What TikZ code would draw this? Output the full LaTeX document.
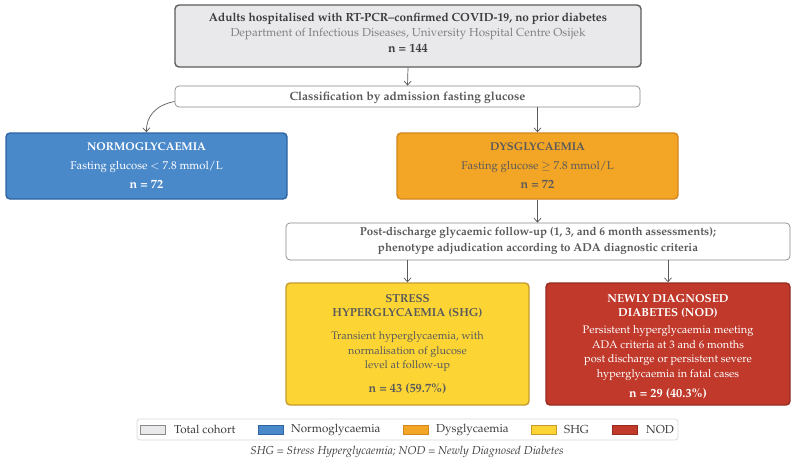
\documentclass[tikz,border=0pt]{standalone}
\usepackage[T1]{fontenc}
\usepackage{mathpazo}
\usetikzlibrary{arrows.meta,calc}
\definecolor{gfill}{HTML}{E9E9EB}
\definecolor{gline}{HTML}{5C5C5C}
\definecolor{bfill}{HTML}{4A89C9}
\definecolor{bline}{HTML}{2E64A0}
\definecolor{ofill}{HTML}{F3A526}
\definecolor{oline}{HTML}{D3871D}
\definecolor{yfill}{HTML}{FCD535}
\definecolor{yline}{HTML}{C69B2C}
\definecolor{rfill}{HTML}{C0392B}
\definecolor{rline}{HTML}{962B20}
\definecolor{tdark}{HTML}{3C3C3C}
\definecolor{tmid}{HTML}{5A5A5A}
\definecolor{tlight}{HTML}{808080}
\definecolor{wline}{HTML}{8A8A8A}
\definecolor{legline}{HTML}{D8D8D8}
\newcommand{\nbig}{\bfseries\fontsize{12.4}{14.5}\selectfont}
\tikzset{
  box/.style={draw, rounded corners=4pt, inner sep=0pt, line width=1.4pt},
  wbox/.style={draw=wline, fill=white, rounded corners=4pt, inner sep=0pt, line width=0.7pt},
  txt/.style={align=center, inner sep=0pt},
  arr/.style={draw=tmid, line width=0.7pt, -{Straight Barb[length=4pt,width=7pt]}},
  swatch/.style={draw, line width=0.6pt, minimum width=25pt, minimum height=9pt, inner sep=0pt},
  legtext/.style={anchor=west, inner sep=0pt, text=tdark, font=\fontsize{11.6}{13}\selectfont}
}
\begin{document}
\begin{tikzpicture}[x=1pt,y=-1pt]
\useasboundingbox (0,0) rectangle (795,464);
\fill[white] (0,0) rectangle (795,464);

% boxes
\node[box, draw=gline, fill=gfill, minimum width=466pt, minimum height=62pt] (top) at (408,36) {};
\node[wbox, minimum width=465pt, minimum height=21pt] (class) at (407.5,96.5) {};
\node[box, draw=bline, fill=bfill, minimum width=281pt, minimum height=66pt] (normo) at (146.5,166) {};
\node[box, draw=oline, fill=ofill, minimum width=281pt, minimum height=66pt] (dysg) at (537.5,166) {};
\node[wbox, minimum width=504pt, minimum height=37pt] (follow) at (538,241.5) {};
\node[box, draw=yline, fill=yfill, minimum width=243pt, minimum height=122pt] (shg) at (407.5,344) {};
\node[box, draw=rline, fill=rfill, minimum width=244pt, minimum height=122pt] (nod) at (668,344) {};

% texts
\node[txt, text=tdark, font=\fontsize{11.5}{15.5}\selectfont] (topt) at (408,32.5)
  {{\bfseries\fontsize{11.8}{15.5}\selectfont Adults hospitalised with RT-PCR--confirmed COVID-19, no prior diabetes}\\
   {\color{tlight}\fontsize{11.6}{15.5}\selectfont Department of Infectious Diseases, University Hospital Centre Osijek}\\
   {\nbig n = 144}};

\node[txt, text=tmid, font=\fontsize{12}{14}\selectfont\bfseries] (classt) at (407.5,97.5)
  {Classification by admission fasting glucose};

\node[txt, text=white, font=\fontsize{11.3}{19}\selectfont] (normot) at (146.5,166)
  {{\bfseries NORMOGLYCAEMIA}\\
   Fasting glucose $<$ 7.8 mmol/L\\
   {\nbig n = 72}};

\node[txt, text=tmid, font=\fontsize{11.3}{19}\selectfont] (dysgt) at (537.5,166)
  {{\bfseries DYSGLYCAEMIA}\\
   Fasting glucose $\geq$ 7.8 mmol/L\\
   {\nbig n = 72}};

\node[txt, text=tmid, font=\fontsize{11.5}{16}\selectfont\bfseries] (followt) at (538,241)
  {Post-discharge glycaemic follow-up (1, 3, and 6 month assessments);\\
   phenotype adjudication according to ADA diagnostic criteria};

\node[txt, text=tmid, font=\fontsize{10.9}{14.5}\selectfont] (shgt) at (407.5,344)
  {{\bfseries\fontsize{11.6}{14.5}\selectfont STRESS}\\
   {\bfseries\fontsize{11.6}{14.5}\selectfont HYPERGLYCAEMIA (SHG)}\\[8.5pt]
   Transient hyperglycaemia, with\\
   normalisation of glucose\\
   level at follow-up\\[9.5pt]
   {\nbig n = 43 (59.7\%)}};

\node[txt, text=white, font=\fontsize{11}{14.5}\selectfont] (nodt) at (668,346.5)
  {{\bfseries\fontsize{11.6}{14.5}\selectfont NEWLY DIAGNOSED}\\
   {\bfseries\fontsize{11.6}{14.5}\selectfont DIABETES (NOD)}\\[2.5pt]
   Persistent hyperglycaemia meeting\\
   ADA criteria at 3 and 6 months\\
   post discharge or persistent severe\\
   hyperglycaemia in fatal cases\\[5.5pt]
   {\nbig n = 29 (40.3\%)}};

% connectors
\draw[arr] (top.south) -- (class.north);
\draw[arr] ($(class.west)+(0,5)$) .. controls (156,105) and (146,116) .. (normo.north);
\draw[arr] (class.south -| dysg.north) -- (dysg.north);
\draw[arr] (dysg.south) -- (follow.north -| dysg.south);
\draw[arr] (follow.south -| shg.north) -- (shg.north);
\draw[arr] (follow.south -| nod.north) -- (nod.north);

% legend
\node[draw=legline, fill=white, rounded corners=3pt, line width=0.7pt, minimum width=541pt, minimum height=21pt, inner sep=0pt] (legend) at (407.5,429.5) {};
\node[swatch, draw=wline, fill=gfill] (s1) at (153,429.5) {};
\node[legtext] (l1) at (174,429.5) {Total cohort};
\node[swatch, draw=bline, fill=bfill] (s2) at (270.5,429.5) {};
\node[legtext] (l2) at (291,429.5) {Normoglycaemia};
\node[swatch, draw=oline, fill=ofill] (s3) at (415.5,429.5) {};
\node[legtext] (l3) at (436,429.5) {Dysglycaemia};
\node[swatch, draw=yline, fill=yfill] (s4) at (543.5,429.5) {};
\node[legtext] (l4) at (564,429.5) {SHG};
\node[swatch, draw=rline, fill=rfill] (s5) at (624.5,429.5) {};
\node[legtext] (l5) at (646,429.5) {NOD};

\node[inner sep=0pt, text=tdark, font=\fontsize{11.5}{13}\selectfont\itshape] (cap) at (407,452)
  {SHG = Stress Hyperglycaemia; NOD = Newly Diagnosed Diabetes};
\end{tikzpicture}
\end{document}
